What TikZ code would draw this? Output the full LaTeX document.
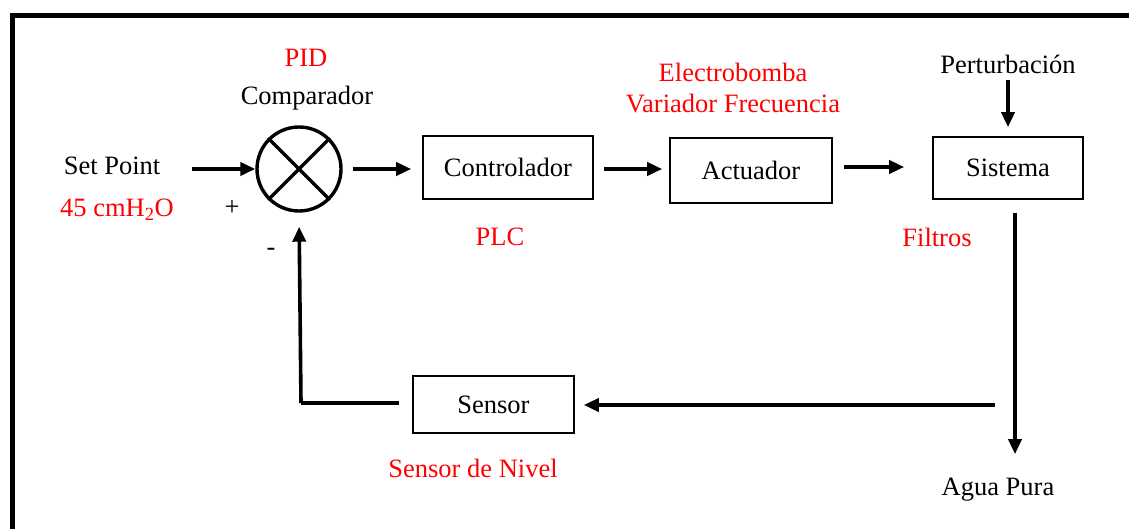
\documentclass[tikz,border=0pt]{standalone}
\usepackage{fontspec}
\setmainfont{Liberation Serif}
\usetikzlibrary{arrows.meta}
\definecolor{lblred}{RGB}{255,0,0}
\tikzset{
  txt/.style={inner sep=0pt, font=\fontsize{26.5}{30}\selectfont},
  redtxt/.style={txt, text=lblred},
  blk/.style={draw, line width=1.6pt, minimum width=#1, inner sep=0pt, font=\fontsize{26.5}{30}\selectfont},
  arr/.style={line width=3.6pt, -{Triangle[length=15pt,width=13pt]}},
  frame/.style={line width=5pt}
}
\begin{document}
\begin{tikzpicture}[x=1pt,y=-1pt]
\useasboundingbox (0,0) rectangle (1129,529);
\fill[white] (0,0) rectangle (1129,529);
% frame
\draw[frame] (9.5,16) -- (1129,16);
\draw[frame] (12,13.5) -- (12,529);

% comparator
\node[circle, draw, line width=3.4pt, minimum size=84pt, inner sep=0pt] (cmp) at (299,169) {};
\draw[line width=3.2pt] (cmp.45) -- (cmp.225);
\draw[line width=3.2pt] (cmp.135) -- (cmp.315);

% blocks
\node[blk=170pt, minimum height=63pt] (ctrl) at (508,167.5) {Controlador};
\node[blk=162pt, minimum height=65pt] (act) at (751,170.5) {Actuador};
\node[blk=150pt, minimum height=62pt] (sys) at (1008,168) {Sistema};
\node[blk=161pt, minimum height=57pt] (sen) at (493.5,404.5) {Sensor};

% texts
\node[redtxt] (pid) at (306,58) {PID};
\node[txt] (comp) at (307,98) {Comparador};
\node[txt] (sp) at (112,166) {Set Point};
\node[redtxt] (spv) at (117,210) {45 cmH\textsubscript{2}O};
\node[txt] (plus) at (232,208) {+};
\node[txt] (minus) at (271,252) {-};
\node[redtxt] (plc) at (500,237) {PLC};
\node[redtxt] (elb) at (733,72) {Electrobomba};
\node[redtxt] (vfr) at (733,104) {Variador Frecuencia};
\node[txt] (pert) at (1008,64) {Perturbación};
\node[redtxt] (fil) at (937,237) {Filtros};
\node[txt] (agua) at (998,490) {Agua Pura};
\node[redtxt] (snv) at (473,468) {Sensor de Nivel};

% helper coordinates
\coordinate (spout) at (192,169);
\coordinate (fbR) at (995,405);
\coordinate (fbL) at (301,403);

% connectors
\draw[arr] (spout) -- (cmp.west);
\draw[arr, shorten <=10pt, shorten >=11pt] (cmp.east) -- (ctrl.west |- cmp.east);
\draw[arr, shorten <=10pt, shorten >=7pt] (ctrl.east |- 0,169) -- (act.west |- 0,169);
\draw[arr, shorten <=11pt, shorten >=28pt] (act.east |- 0,167) -- (sys.west |- 0,167);
\draw[arr, shorten <=6pt, shorten >=9pt] (pert.south -| sys.north) -- (sys.north);
\draw[arr, shorten <=13pt, shorten >=24pt] (sys.south -| 1015,0) -- (agua.north -| 1015,0);
\draw[arr, shorten >=9pt] (fbR) -- (sen.east |- fbR);
\draw[line width=3.6pt] ([xshift=-13pt]sen.west |- 0,403) -- (fbL);
\draw[arr, shorten >=14pt] (fbL) -- (cmp.south);
\end{tikzpicture}
\end{document}
